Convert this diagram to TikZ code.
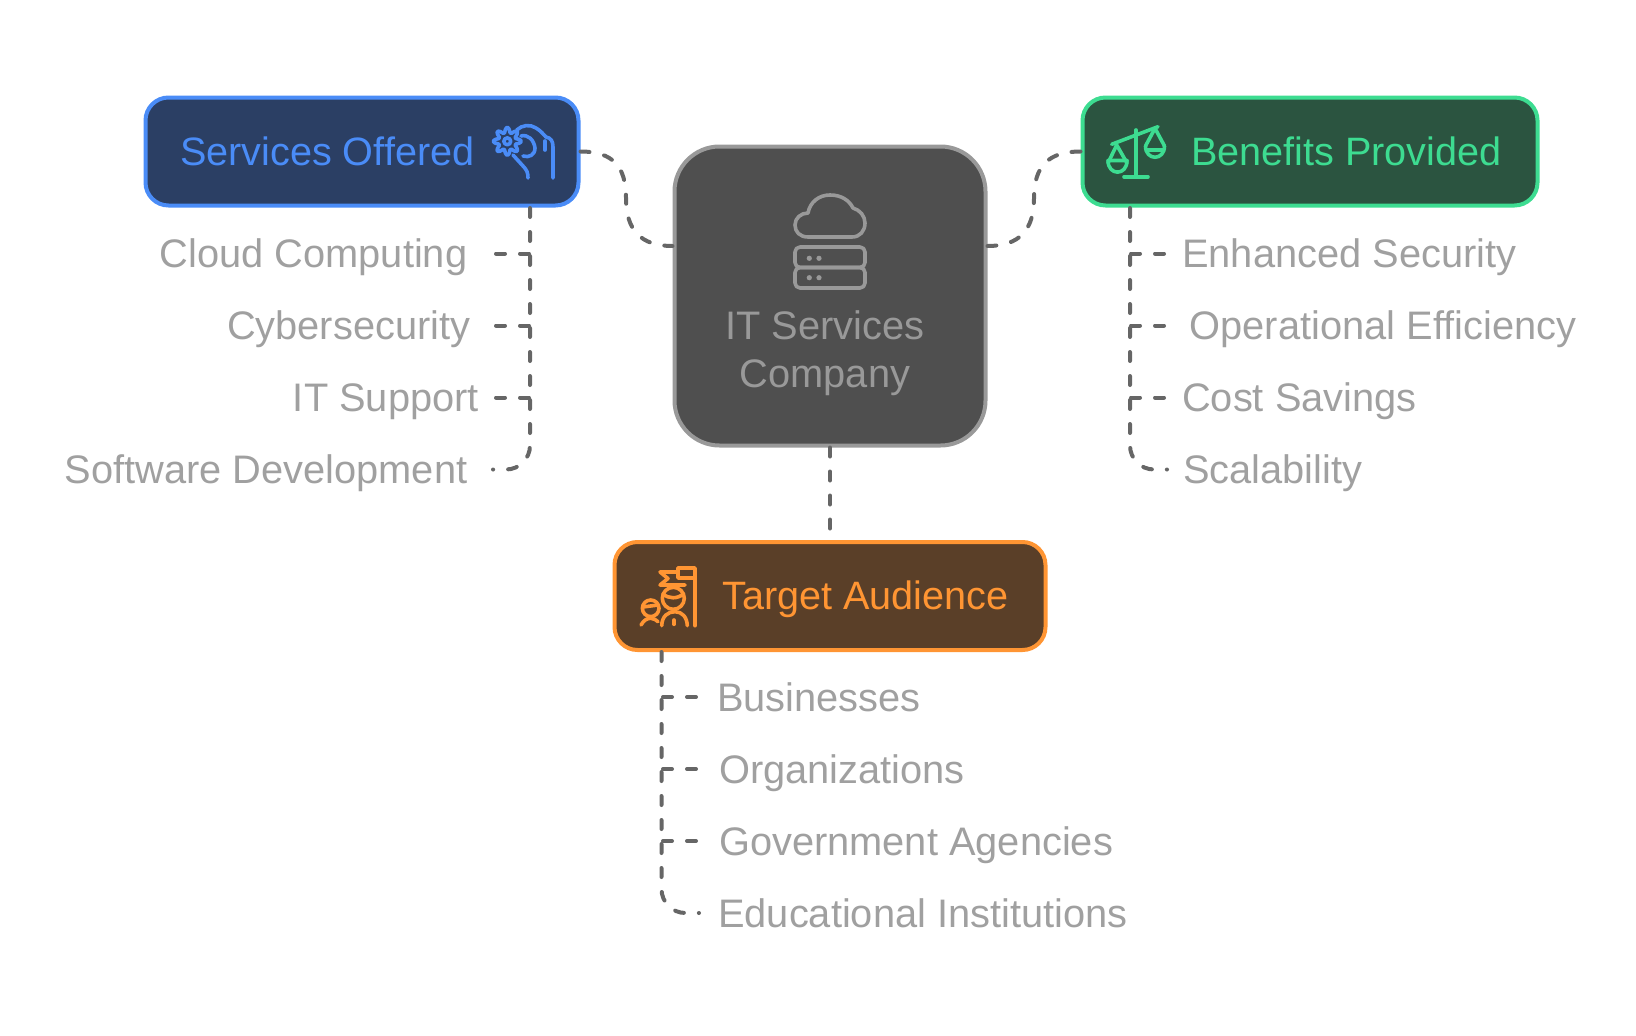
\documentclass[tikz,border=0pt]{standalone}
\usepackage{fontspec}
\setmainfont{Liberation Sans}

\definecolor{linkgray}{HTML}{666666}
\definecolor{leafgray}{HTML}{A0A0A0}
\definecolor{hubfill}{HTML}{4F4F4F}
\definecolor{hubline}{HTML}{999999}
\definecolor{svcfill}{HTML}{2B3F64}
\definecolor{svcline}{HTML}{4A8CF7}
\definecolor{benfill}{HTML}{2B5440}
\definecolor{benline}{HTML}{3DDC91}
\definecolor{audfill}{HTML}{5A3F28}
\definecolor{audline}{HTML}{FF9533}

\tikzset{
    box/.style={draw,rounded corners=23pt,line width=4pt,inner sep=0pt},
    title/.style={font=\fontsize{39.6}{46}\selectfont,inner sep=0pt,anchor=base west},
    leaf/.style={font=\fontsize{39.8}{46}\selectfont,text=leafgray,inner sep=0pt},
    link/.style={draw=linkgray,line width=4pt,line cap=round,dash pattern=on 9pt off 15pt},
    icon/.style={line width=3.6pt,line cap=round,line join=round}
}

\begin{document}
\begin{tikzpicture}[x=1pt,y=-1pt]

\useasboundingbox (0,0) rectangle (1636,1036);

% Boxes
\node[box,draw=hubline,fill=hubfill,rounded corners=45pt,minimum width=311pt,minimum height=299pt] (hub) at (830,296) {};
\node[box,draw=svcline,fill=svcfill,minimum width=433pt,minimum height=108pt] (svc) at (362,151.5) {};
\node[box,draw=benline,fill=benfill,minimum width=455pt,minimum height=108pt] (ben) at (1310,151.5) {};
\node[box,draw=audline,fill=audfill,minimum width=431pt,minimum height=108pt] (aud) at (830,596) {};

% Box texts
\node[title,text=svcline] (svctext) at (180,165) {Services Offered};
\node[title,text=benline] (bentext) at (1191,165) {Benefits Provided};
\node[title,text=audline] (audtext) at (722,609) {Target Audience};
\node[leaf,text=hubline,anchor=base] (hubtext1) at (825,339) {IT Services};
\node[leaf,text=hubline,anchor=base] (hubtext2) at (825,387) {Company};

% Services leaves
\node[leaf,anchor=base east] (cloud) at (467.5,267) {Cloud Computing};
\node[leaf,anchor=base east] (cyber) at (470.5,339) {Cybersecurity};
\node[leaf,anchor=base east] (support) at (479,411) {IT Support};
\node[leaf,anchor=base east] (software) at (467.5,483) {Software Development};

% Benefits leaves
\node[leaf,anchor=base west] (security) at (1182,267) {Enhanced Security};
\node[leaf,anchor=base west] (efficiency) at (1189.5,339) {Operational Efficiency};
\node[leaf,anchor=base west] (savings) at (1182,411) {Cost Savings};
\node[leaf,anchor=base west] (scale) at (1183,483) {Scalability};

% Audience leaves
\node[leaf,anchor=base west] (business) at (717,711) {Businesses};
\node[leaf,anchor=base west] (orgs) at (719,783) {Organizations};
\node[leaf,anchor=base west] (gov) at (719,855) {Government Agencies};
\node[leaf,anchor=base west] (edu) at (718,927) {Educational Institutions};

% Roots and ends of the branches
\coordinate (svcroot) at (530,208);
\coordinate (benroot) at (1130,208);
\coordinate (audroot) at (661.5,652);
\coordinate (svcbend) at (626,198);
\coordinate (benbend) at (1034,198);

\coordinate (cloudend) at (496,253.5);
\coordinate (cyberend) at (496,325.5);
\coordinate (supportend) at (496,397.5);
\coordinate (softwareend) at (493,469.5);
\coordinate (securityend) at (1164,253.5);
\coordinate (efficiencyend) at (1164,325.5);
\coordinate (savingsend) at (1164,397.5);
\coordinate (scaleend) at (1167,469.5);
\coordinate (businessend) at (696,697);
\coordinate (orgsend) at (696,769);
\coordinate (govend) at (696,841);
\coordinate (eduend) at (699,913);

% Hub connectors
\draw[link] (svc.east) .. controls +(32,0) and +(0,-32) .. (svcbend)
    .. controls +(0,32) and +(-32,0) .. ([yshift=50pt]hub.west);
\draw[link] (ben.west) .. controls +(-32,0) and +(0,-32) .. (benbend)
    .. controls +(0,32) and +(32,0) .. ([yshift=50pt]hub.east);
\draw[link] (hub.south) -- (aud.north);

% Trunks
\draw[link,rounded corners=24pt] (svcroot) |- (softwareend);
\draw[link,rounded corners=24pt] (benroot) |- (scaleend);
\draw[link,rounded corners=24pt] (audroot) |- (eduend);

% Branches
\draw[link] (cloudend) -- (cloudend -| svcroot);
\draw[link] (cyberend) -- (cyberend -| svcroot);
\draw[link] (supportend) -- (supportend -| svcroot);

\draw[link] (securityend) -- (securityend -| benroot);
\draw[link] (efficiencyend) -- (efficiencyend -| benroot);
\draw[link] (savingsend) -- (savingsend -| benroot);

\draw[link] (businessend) -- (businessend -| audroot);
\draw[link] (orgsend) -- (orgsend -| audroot);
\draw[link] (govend) -- (govend -| audroot);

% Cloud and servers
\begin{scope}[icon,draw=hubline]
\draw (808,237) .. controls (800,237) and (795,232) .. (795,225)
    .. controls (795,218) and (801,213) .. (808,213)
    .. controls (810,202) and (819,195) .. (830,195)
    .. controls (841,195) and (849,200) .. (853,208)
    .. controls (860,210) and (865,216) .. (865,223)
    .. controls (865,231) and (860,237) .. (852,237) -- cycle;
\draw[rounded corners=5pt] (795,247) rectangle (865,267.5);
\draw[rounded corners=5pt] (795,267.5) rectangle (865,288);
\fill[hubline] (809.3,258.3) circle(2.6);
\fill[hubline] (819,258.3) circle(2.6);
\fill[hubline] (809.3,277.7) circle(2.6);
\fill[hubline] (819,277.7) circle(2.6);
\end{scope}

% Gear and hand
\begin{scope}[icon,draw=svcline]
\draw plot[smooth cycle,samples=40,domain=0:351,variable=\u]
    ({507.3+(11.2+2.8*cos(8*\u))*cos(\u)},{141.3+(11.2+2.8*cos(8*\u))*sin(\u)});
\draw (507.3,141.3) circle(3.4);
\draw (516.7,130) .. controls (522,125) and (530,124) .. (536,128)
    .. controls (541,131) and (543,134) .. (546,137)
    .. controls (551,138) and (553,141) .. (553,147) -- (553,178);
\draw (545,141) -- (545,150);
\draw (521,136) .. controls (528,134) and (534,140) .. (535,148)
    .. controls (535,155) and (529,158) .. (523,156);
\draw (513,155) -- (523,166) .. controls (527,170) and (528,173) .. (528,178);
\end{scope}

% Balance
\begin{scope}[icon,draw=benline]
\draw (1111.7,144.3) -- (1158,126.7);
\draw (1136,130) -- (1136,176.7);
\draw (1124,176.7) -- (1148,176.7);
\draw (1108,163) -- (1116.7,145) -- (1127,163);
\draw (1108,160.5) -- (1127,160.5) .. controls (1127,176) and (1108,176) .. (1108,160.5) -- cycle;
\draw (1145.5,146) -- (1155,128.3) -- (1164.5,146);
\draw (1145.5,146) .. controls (1145.5,161) and (1164.5,161) .. (1164.5,146);
\draw (1147,150) -- (1163,150);
\end{scope}

% Flag and people
\begin{scope}[icon,draw=audline]
\draw (695,625.7) -- (695,568) -- (678,568) -- (678,578) -- (695,578);
\draw (678,572) -- (660,572) -- (668,578.5) -- (660,585) -- (685,585);
\draw (673.3,598.3) circle(11);
\draw (663,594) .. controls (669,599) and (677,599) .. (683.5,594);
\draw (661.7,625.7) .. controls (662,616) and (668,611.7) .. (675,611.7)
    .. controls (682,611.7) and (687,617) .. (687.3,625.7);
\draw (674,620) -- (674,624.3);
\draw (650.7,608.3) circle(8.3);
\draw (643,607) -- (658,605);
\draw (641,625) .. controls (644,620) and (647,618.3) .. (650.7,618.3)
    .. controls (654,618.3) and (656,620) .. (658,621.7);
\end{scope}

\end{tikzpicture}
\end{document}
